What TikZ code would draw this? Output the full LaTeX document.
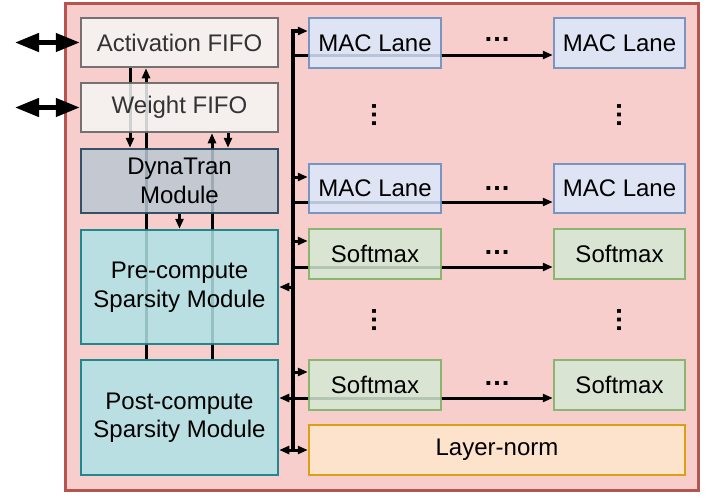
\documentclass[tikz,border=0pt]{standalone}
\usepackage{fontspec}
\setmainfont{Liberation Sans}
\usetikzlibrary{arrows.meta}
\definecolor{chipF}{HTML}{F8CECC}
\definecolor{chipD}{HTML}{B85450}
\definecolor{fifoF}{HTML}{F5F5F5}
\definecolor{fifoD}{HTML}{666666}
\definecolor{fifoT}{HTML}{333333}
\definecolor{dynF}{HTML}{BAC8D3}
\definecolor{dynD}{HTML}{23445D}
\definecolor{spF}{HTML}{B0E3E6}
\definecolor{spD}{HTML}{0E8088}
\definecolor{macF}{HTML}{DAE8FC}
\definecolor{macD}{HTML}{6C8EBF}
\definecolor{smF}{HTML}{D5E8D4}
\definecolor{smD}{HTML}{82B366}
\definecolor{lnF}{HTML}{FFE6CC}
\definecolor{lnD}{HTML}{D79B00}
\pgfdeclarelayer{back}
\pgfdeclarelayer{wires}
\pgfsetlayers{back,wires,main}
\begin{document}
\begin{tikzpicture}[x=1pt,y=-1pt,
  box/.style={rectangle, line width=2.5pt, fill opacity=0.85, draw opacity=0.9, text opacity=1,
    inner sep=0pt, align=center, font=\fontsize{24}{28.5}\selectfont},
  fifo/.style={box, draw=fifoD, fill=fifoF, text=fifoT, minimum width=197pt, minimum height=49pt},
  dyn/.style={box, draw=dynD, fill=dynF, minimum width=197pt, minimum height=64pt},
  spar/.style={box, draw=spD, fill=spF, minimum width=197pt, minimum height=114pt},
  mac/.style={box, draw=macD, fill=macF, minimum width=132pt, minimum height=50pt},
  soft/.style={box, draw=smD, fill=smF, minimum width=132pt, minimum height=50pt},
  lnorm/.style={box, draw=lnD, fill=lnF, minimum width=376pt, minimum height=50pt},
  chip/.style={rectangle, line width=3pt, draw=chipD, fill=chipF, inner sep=0pt,
    minimum width=633pt, minimum height=487pt},
  arr/.style={line width=3pt, -{Triangle[length=10pt,width=8pt]}},
  dbl/.style={line width=3pt, {Triangle[length=10pt,width=8pt]}-{Triangle[length=10pt,width=8pt]}},
  busline/.style={line width=3.5pt, -{Triangle[length=10pt,width=8pt]}},
  ext/.style={line width=4.5pt, {Triangle[length=24pt,width=18pt]}-{Triangle[length=24pt,width=18pt]}},
  hdots/.style={inner sep=0pt, anchor=base, font=\fontsize{27}{30}\selectfont\bfseries},
  vdots/.style={hdots, rotate=90}
]
\useasboundingbox (0,0) rectangle (706,498);

% outer chip
\begin{pgfonlayer}{back}
\node[chip] (chip) at (381.5,246.5) {};
\end{pgfonlayer}

% left column
\node[fifo] (act) at (179.5,42.5) {Activation FIFO};
\node[fifo] (wgt) at (179.5,107.5) {Weight FIFO};
\node[dyn] (dyn) at (179.5,181) {DynaTran\\Module};
\node[spar] (pre) at (179.5,287) {Pre-compute\\Sparsity Module};
\node[spar, minimum height=115pt] (post) at (179.5,417.5) {Post-compute\\Sparsity Module};

% right arrays
\node[mac] (mac11) at (375,43) {MAC Lane};
\node[mac, minimum width=131pt] (mac12) at (619.5,43) {MAC Lane};
\node[mac, minimum height=49pt] (mac21) at (375,188.5) {MAC Lane};
\node[mac, minimum width=131pt, minimum height=49pt] (mac22) at (619.5,188.5) {MAC Lane};
\node[soft] (sm11) at (375,254) {Softmax};
\node[soft, minimum width=131pt] (sm12) at (619.5,254) {Softmax};
\node[soft] (sm21) at (375,385) {Softmax};
\node[soft, minimum width=131pt] (sm22) at (619.5,385) {Softmax};
\node[lnorm] (ln) at (497,450) {Layer-norm};

% dots
\node[hdots] (d1) at (497,41) {…};
\node[hdots] (d2) at (497,190) {…};
\node[hdots] (d3) at (497,254) {…};
\node[hdots] (d4) at (497,385) {…};
\node[vdots] (d5) at (376,115) {…};
\node[vdots] (d6) at (621,115) {…};
\node[vdots] (d7) at (376,320) {…};
\node[vdots] (d8) at (621,320) {…};

% helper coordinates
\coordinate (xA) at (130,0);
\coordinate (xB) at (146,0);
\coordinate (xC) at (212,0);
\coordinate (xD) at (228,0);
\coordinate (bus) at (293,0);
\coordinate (busTop) at (293,31);
\coordinate (busBot) at (293,450);
\coordinate (r1) at (0,55);
\coordinate (r2) at (0,177);
\coordinate (r3) at (0,202);
\coordinate (r4) at (0,241);
\coordinate (r5) at (0,267);
\coordinate (r6) at (0,287);
\coordinate (r7) at (0,372);
\coordinate (r8) at (0,398);
\coordinate (r9) at (0,450);
\coordinate (inA) at (15,42.5);
\coordinate (inW) at (15,107.5);

\begin{pgfonlayer}{wires}
% external ports
\draw[ext] (inA) -- (act.west);
\draw[ext] (inW) -- (wgt.west);
% vertical links in left column
\draw[arr] (act.south -| xA) -- (dyn.north -| xA);
\draw[arr] (post.north -| xB) -- (act.south -| xB);
\draw[arr] (post.north -| xC) -- (wgt.south -| xC);
\draw[arr] (wgt.south -| xD) -- (dyn.north -| xD);
\draw[arr] (dyn.south) -- (pre.north);
% bus
\draw[busline] (busBot) -- (busTop) -- (mac11.west |- busTop);
\draw[arr] (bus |- r1) -- (mac12.west |- r1);
\draw[arr] (bus |- r2) -- (mac21.west |- r2);
\draw[arr] (bus |- r3) -- (mac22.west |- r3);
\draw[arr] (bus |- r4) -- (sm11.west |- r4);
\draw[arr] (bus |- r5) -- (sm12.west |- r5);
\draw[arr] (bus |- r6) -- (pre.east |- r6);
\draw[arr] (bus |- r7) -- (sm21.west |- r7);
\draw[dbl] (post.east |- r8) -- (sm22.west |- r8);
\draw[dbl] (post.east |- r9) -- (ln.west |- r9);
\end{pgfonlayer}
\end{tikzpicture}
\end{document}
